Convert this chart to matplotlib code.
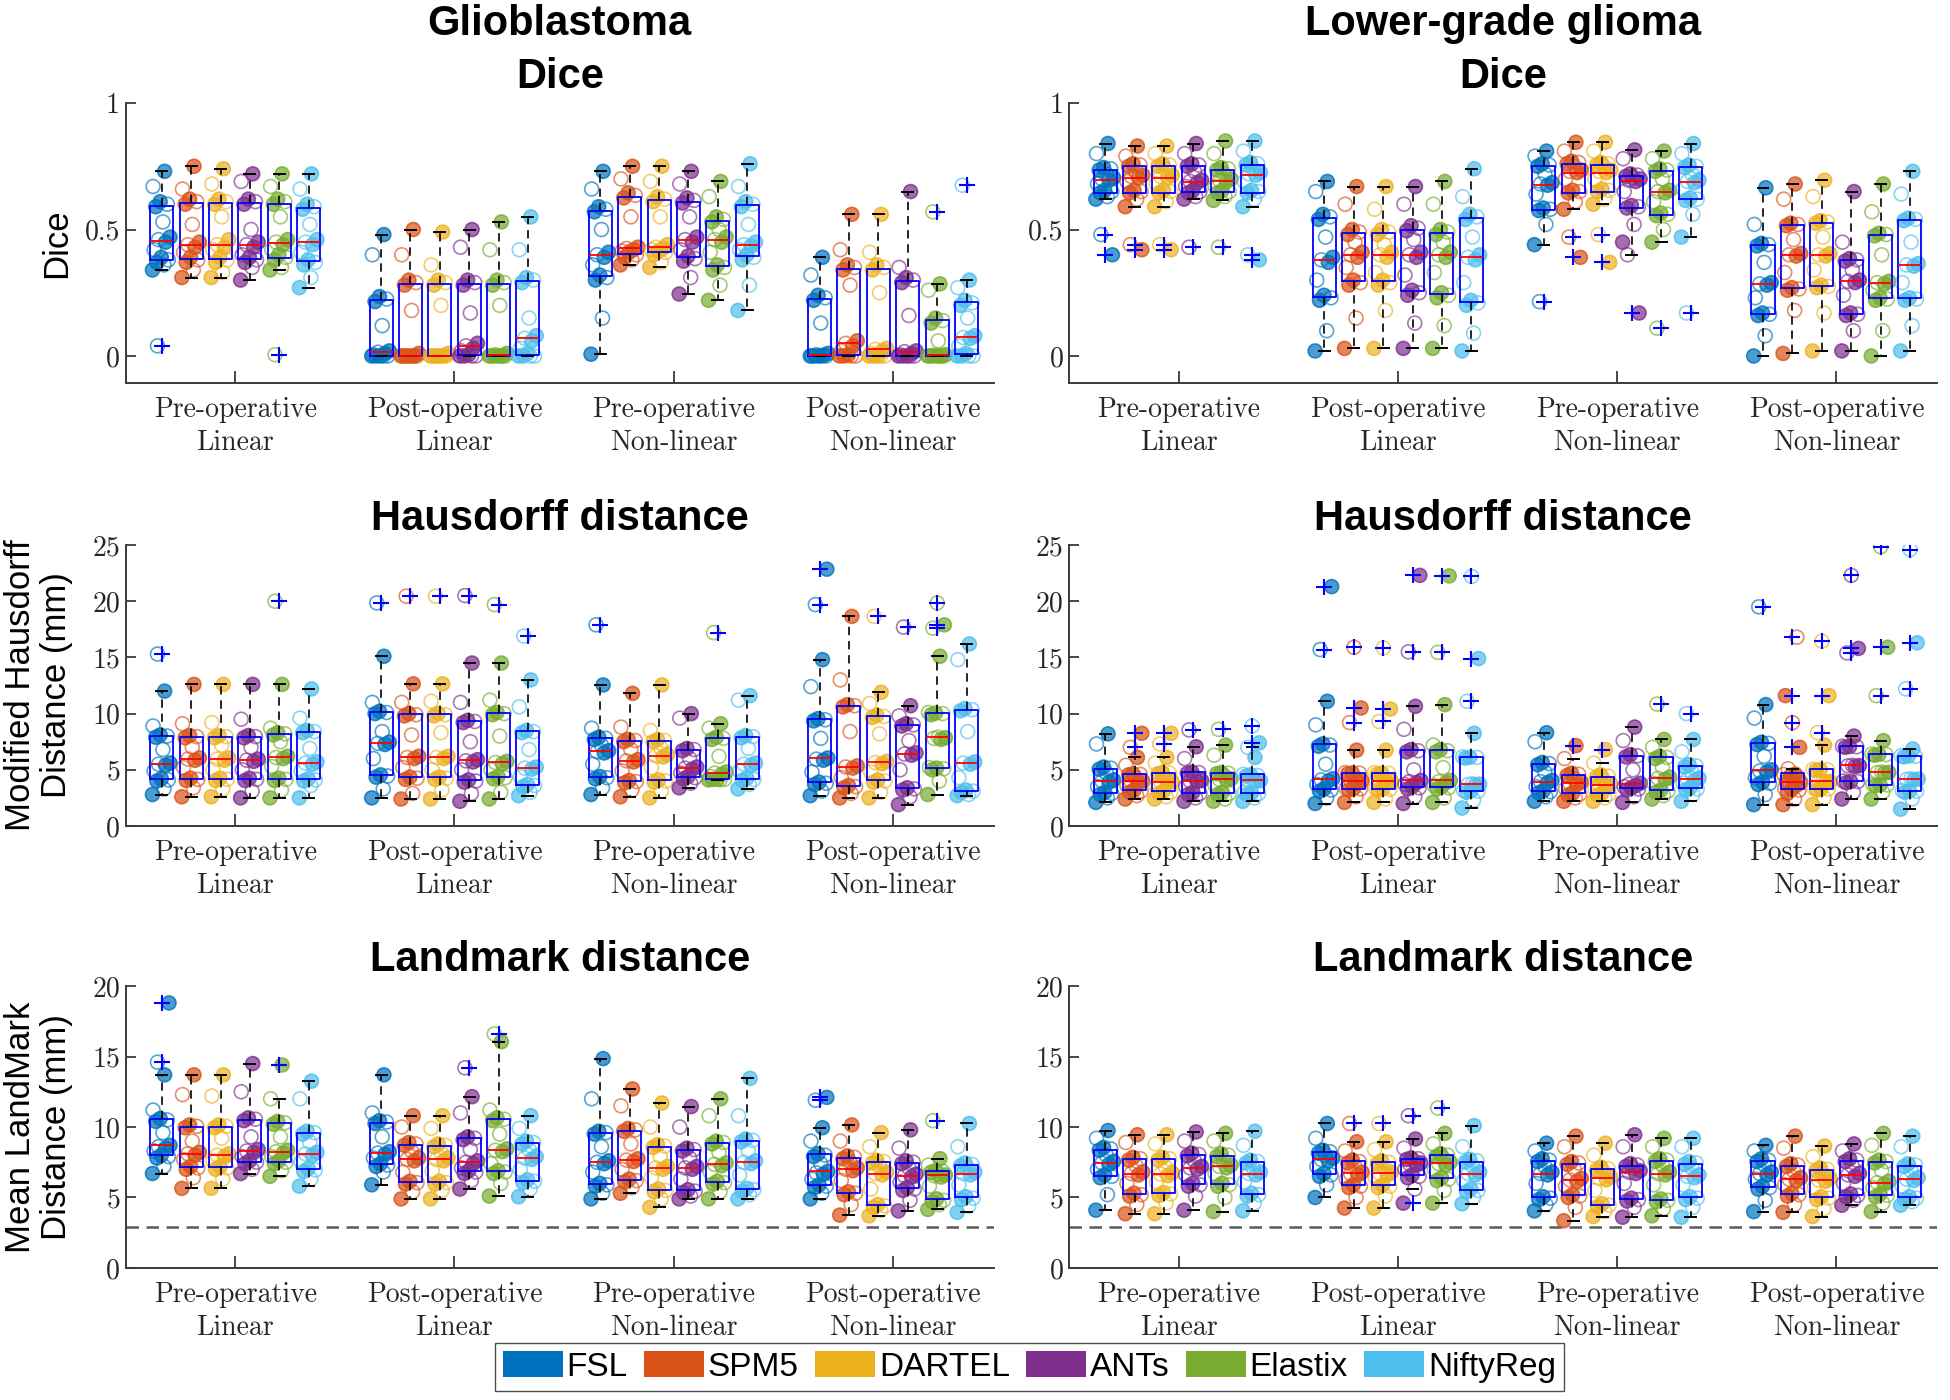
import numpy as np
import matplotlib
matplotlib.use('Agg')
import matplotlib.pyplot as plt
from matplotlib.patches import Patch
from matplotlib.colors import to_rgba

plt.rcParams['font.family'] = ['Liberation Sans', 'DejaVu Sans']

methods = ['FSL', 'SPM5', 'DARTEL', 'ANTs', 'Elastix', 'NiftyReg']
method_colors = ['#0072BD', '#D95319', '#EDB120', '#7E2F8E', '#77AC30', '#4DBEEE']
group_labels = ['Pre-operative\nLinear', 'Post-operative\nLinear',
                'Pre-operative\nNon-linear', 'Post-operative\nNon-linear']

# ---- Glioblastoma, Dice (one list per method: FSL, SPM5, DARTEL, ANTs, Elastix, NiftyReg)
gbm_dice_pre_lin = [
    [.34, .36, .37, .38, .39, .42, .45, .46, .47, .53, .59, .60, .61, .67, .73, .04],
    [.31, .34, .37, .38, .39, .41, .43, .44, .45, .52, .60, .61, .62, .66, .75],
    [.31, .33, .37, .38, .39, .42, .43, .44, .46, .55, .60, .61, .62, .68, .74],
    [.30, .35, .37, .38, .39, .40, .43, .44, .45, .50, .60, .61, .62, .69, .72],
    [.34, .35, .38, .39, .40, .42, .44, .45, .46, .55, .60, .61, .62, .67, .72, .005],
    [.27, .31, .36, .37, .38, .41, .44, .45, .46, .52, .58, .59, .60, .66, .72]]
gbm_dice_post_lin = [
    [0, 0, 0, 0, 0, .005, .01, .015, .02, .12, .215, .225, .235, .40, .48],
    [0, 0, 0, 0, 0, 0, 0, 0, .01, .18, .28, .29, .30, .40, .50],
    [0, 0, 0, 0, 0, 0, 0, 0, .01, .20, .28, .29, .30, .36, .49],
    [0, 0, 0, 0, .005, .02, .03, .04, .05, .17, .28, .29, .30, .43, .50],
    [0, 0, 0, 0, 0, 0, 0, .005, .01, .20, .28, .29, .30, .42, .53],
    [0, 0, 0, 0, .01, .03, .06, .07, .08, .15, .29, .30, .31, .42, .55]]
gbm_dice_pre_nl = [
    [.007, .15, .30, .31, .32, .36, .39, .40, .41, .50, .57, .58, .59, .66, .73],
    [.36, .38, .39, .40, .41, .415, .42, .425, .43, .55, .625, .635, .645, .70, .75],
    [.35, .37, .40, .41, .415, .42, .425, .43, .44, .55, .61, .62, .63, .69, .75],
    [.245, .31, .375, .385, .395, .42, .45, .46, .47, .55, .605, .615, .625, .68, .73],
    [.22, .28, .34, .35, .36, .41, .45, .46, .47, .50, .53, .54, .55, .63, .69],
    [.18, .28, .38, .39, .40, .42, .435, .44, .45, .52, .59, .60, .61, .67, .76]]
gbm_dice_post_nl = [
    [0, 0, 0, 0, 0, 0, .003, .005, .01, .13, .22, .23, .24, .32, .39],
    [0, 0, 0, 0, .005, .02, .04, .05, .06, .28, .34, .35, .36, .42, .56],
    [0, 0, 0, 0, 0, .01, .02, .026, .03, .25, .34, .35, .36, .41, .56],
    [0, 0, 0, 0, 0, .005, .01, .017, .02, .16, .29, .30, .31, .35, .65],
    [0, 0, 0, 0, 0, 0, 0, .003, .005, .06, .13, .14, .15, .26, .285, .57],
    [0, 0, 0, 0, .01, .04, .07, .073, .08, .15, .20, .21, .22, .27, .30, .675]]

# ---- Lower-grade glioma, Dice
lgg_dice_pre_lin = [
    [.62, .63, .645, .65, .655, .68, .695, .70, .705, .72, .735, .74, .745, .80, .84, .48, .40],
    [.59, .62, .645, .65, .655, .69, .705, .71, .715, .73, .75, .755, .76, .79, .83, .44, .42],
    [.59, .61, .645, .65, .655, .68, .705, .71, .715, .74, .75, .755, .76, .80, .83, .44, .42],
    [.62, .63, .645, .65, .655, .67, .685, .69, .695, .73, .75, .755, .76, .80, .84, .43],
    [.615, .63, .645, .65, .655, .67, .69, .695, .70, .72, .735, .74, .745, .80, .85, .43],
    [.59, .62, .645, .65, .655, .69, .715, .72, .725, .74, .755, .76, .765, .81, .85, .40, .38]]
lgg_dice_post_lin = [
    [.02, .10, .22, .23, .24, .30, .37, .38, .39, .47, .54, .55, .56, .65, .69],
    [.03, .15, .28, .29, .30, .35, .39, .40, .41, .45, .48, .49, .50, .60, .67],
    [.03, .18, .28, .29, .30, .33, .39, .40, .41, .44, .48, .49, .50, .58, .67],
    [.03, .13, .24, .25, .26, .32, .39, .40, .41, .46, .495, .505, .515, .60, .67],
    [.03, .12, .23, .24, .25, .33, .39, .40, .41, .45, .48, .49, .50, .60, .69],
    [.02, .09, .20, .21, .22, .29, .38, .39, .40, .47, .54, .55, .56, .63, .74]]
lgg_dice_pre_nl = [
    [.44, .52, .575, .58, .585, .64, .675, .68, .685, .72, .75, .755, .76, .79, .81, .215],
    [.58, .61, .645, .65, .655, .70, .725, .73, .735, .75, .76, .765, .77, .81, .845, .47, .39],
    [.60, .62, .65, .655, .66, .70, .725, .73, .735, .75, .755, .76, .765, .81, .845, .48, .37],
    [.45, .52, .585, .59, .595, .65, .69, .695, .70, .705, .71, .715, .72, .78, .815, .40, .17],
    [.45, .50, .555, .56, .565, .61, .645, .65, .655, .70, .73, .735, .74, .78, .81, .11],
    [.47, .56, .615, .62, .625, .66, .685, .69, .695, .72, .745, .75, .755, .80, .84, .17]]
lgg_dice_post_nl = [
    [0, .08, .16, .165, .17, .23, .28, .285, .29, .37, .435, .44, .445, .52, .665],
    [.01, .18, .26, .265, .27, .33, .395, .40, .405, .46, .515, .52, .525, .62, .68],
    [.02, .17, .27, .275, .28, .34, .395, .40, .405, .47, .525, .53, .535, .63, .695],
    [.02, .10, .16, .165, .17, .24, .29, .295, .30, .34, .375, .38, .385, .45, .65],
    [0, .10, .22, .225, .23, .26, .285, .29, .295, .40, .475, .48, .485, .57, .68],
    [.02, .12, .22, .225, .23, .29, .355, .36, .365, .45, .535, .54, .545, .64, .73]]

# ---- Glioblastoma, modified Hausdorff distance (mm)
gbm_hd_pre_lin = [
    [2.8, 3.3, 4.0, 4.1, 4.2, 4.9, 5.4, 5.5, 5.6, 6.8, 7.9, 8.0, 8.1, 8.9, 12.0, 15.3],
    [2.6, 3.4, 4.05, 4.15, 4.25, 5.2, 5.85, 5.95, 6.05, 7.0, 7.85, 7.95, 8.05, 9.1, 12.6],
    [2.6, 3.3, 4.05, 4.15, 4.25, 5.0, 5.85, 5.95, 6.05, 7.2, 7.85, 7.95, 8.05, 9.2, 12.6],
    [2.5, 3.1, 4.05, 4.15, 4.25, 5.0, 5.75, 5.85, 5.95, 7.0, 7.85, 7.95, 8.05, 9.5, 12.6],
    [2.5, 3.2, 4.05, 4.15, 4.25, 5.3, 6.0, 6.1, 6.2, 7.5, 8.1, 8.2, 8.3, 8.7, 12.6, 20.0],
    [2.5, 3.6, 4.0, 4.1, 4.2, 4.9, 5.5, 5.6, 5.7, 6.9, 8.3, 8.4, 8.5, 9.6, 12.2]]
gbm_hd_post_lin = [
    [2.5, 3.3, 4.35, 4.45, 4.55, 6.0, 7.25, 7.35, 7.45, 8.4, 10.0, 10.1, 10.2, 11.0, 15.1, 19.85],
    [2.4, 2.9, 4.15, 4.25, 4.35, 5.2, 6.0, 6.1, 6.2, 8.1, 9.8, 9.9, 10.0, 11.0, 12.65, 20.45],
    [2.4, 3.2, 4.15, 4.25, 4.35, 5.0, 6.0, 6.1, 6.2, 8.3, 9.8, 9.9, 10.0, 11.1, 12.65, 20.45],
    [2.2, 2.9, 3.9, 4.0, 4.1, 5.0, 5.7, 5.8, 5.9, 7.5, 9.2, 9.3, 9.4, 11.0, 14.5, 20.5],
    [2.4, 3.0, 4.2, 4.3, 4.4, 5.0, 5.55, 5.65, 5.75, 8.0, 9.9, 10.0, 10.1, 11.2, 14.5, 19.7],
    [2.7, 3.0, 3.5, 3.6, 3.7, 4.4, 5.05, 5.15, 5.25, 6.8, 8.3, 8.4, 8.5, 10.6, 13.0, 16.9]]
gbm_hd_pre_nl = [
    [2.8, 3.4, 4.2, 4.3, 4.4, 5.5, 6.5, 6.6, 6.7, 7.2, 7.7, 7.8, 7.9, 8.7, 12.55, 17.9],
    [2.6, 3.2, 3.85, 3.95, 4.05, 4.9, 5.7, 5.8, 5.9, 6.8, 7.5, 7.6, 7.7, 8.8, 11.8],
    [2.5, 3.1, 3.9, 4.0, 4.1, 5.2, 6.15, 6.25, 6.35, 7.0, 7.5, 7.6, 7.7, 8.5, 12.55],
    [3.4, 3.8, 4.2, 4.3, 4.4, 4.7, 5.05, 5.15, 5.25, 6.0, 6.7, 6.8, 6.9, 9.6, 10.0],
    [4.1, 4.12, 4.14, 4.15, 4.16, 4.4, 4.6, 4.7, 4.8, 6.2, 7.7, 7.8, 7.9, 8.7, 9.1, 17.2],
    [3.3, 3.7, 4.05, 4.15, 4.25, 4.9, 5.4, 5.5, 5.6, 6.9, 7.85, 7.95, 8.05, 11.2, 11.6]]
gbm_hd_post_nl = [
    [2.7, 3.1, 3.7, 3.8, 3.9, 4.8, 5.85, 5.95, 6.05, 7.8, 9.35, 9.45, 9.55, 12.4, 14.8, 19.7, 22.85],
    [2.5, 2.9, 3.4, 3.5, 3.6, 4.3, 5.15, 5.25, 5.35, 8.4, 10.6, 10.7, 10.8, 13.0, 18.65],
    [2.5, 3.0, 3.9, 4.0, 4.1, 4.8, 5.55, 5.65, 5.75, 8.2, 9.65, 9.75, 9.85, 10.9, 11.9, 18.65],
    [1.9, 2.6, 3.2, 3.3, 3.4, 5.0, 6.3, 6.4, 6.5, 7.6, 8.9, 9.0, 9.1, 9.8, 10.7, 17.7],
    [2.8, 4.0, 5.0, 5.1, 5.15, 5.2, 7.7, 7.8, 7.85, 7.9, 9.9, 10.0, 10.05, 10.1, 15.1, 17.6, 17.9, 19.85],
    [2.7, 2.8, 3.0, 3.1, 3.2, 4.3, 5.5, 5.6, 5.7, 8.4, 10.25, 10.35, 10.45, 14.8, 16.2]]

# ---- Lower-grade glioma, modified Hausdorff distance (mm)
lgg_hd_pre_lin = [
    [2.1, 2.5, 2.8, 2.9, 3.0, 3.5, 3.9, 4.0, 4.1, 4.7, 5.05, 5.15, 5.25, 7.3, 8.2],
    [2.4, 2.7, 3.0, 3.1, 3.2, 3.6, 3.9, 3.95, 4.0, 4.3, 4.55, 4.6, 4.65, 5.4, 6.1, 7.0, 8.25],
    [2.4, 2.6, 2.9, 3.0, 3.1, 3.5, 3.85, 3.9, 3.95, 4.3, 4.65, 4.7, 4.75, 5.6, 6.1, 7.3, 8.25],
    [2.2, 2.5, 2.8, 2.9, 3.0, 3.5, 3.95, 4.0, 4.05, 4.4, 4.7, 4.75, 4.8, 6.0, 7.05, 8.55],
    [2.2, 2.4, 2.8, 2.9, 3.0, 3.6, 4.1, 4.15, 4.2, 4.5, 4.65, 4.7, 4.75, 6.3, 7.2, 8.6],
    [2.2, 2.5, 2.8, 2.9, 2.95, 3.0, 3.95, 4.0, 4.05, 4.1, 4.45, 4.5, 4.55, 4.6, 6.1, 7.0, 7.4, 8.9]]
lgg_hd_post_lin = [
    [2.0, 2.5, 3.1, 3.2, 3.3, 3.7, 4.0, 4.1, 4.2, 5.5, 7.1, 7.2, 7.3, 9.0, 11.1, 15.7, 21.3],
    [2.1, 2.6, 3.2, 3.3, 3.32, 3.35, 3.95, 4.0, 4.02, 4.05, 4.65, 4.7, 4.72, 4.75, 6.75, 9.2, 10.5, 15.9],
    [2.1, 2.4, 3.2, 3.28, 3.3, 3.35, 3.9, 3.98, 4.0, 4.05, 4.62, 4.68, 4.7, 4.75, 6.75, 9.3, 10.4, 15.85],
    [2.0, 2.6, 3.3, 3.4, 3.5, 3.7, 3.85, 3.95, 4.05, 5.0, 6.6, 6.7, 6.8, 8.6, 10.65, 15.5, 22.3],
    [2.1, 2.5, 3.3, 3.4, 3.5, 3.6, 3.85, 3.95, 4.05, 5.2, 6.6, 6.7, 6.8, 7.2, 10.8, 15.45, 22.25],
    [1.6, 2.3, 3.0, 3.1, 3.12, 3.15, 3.65, 3.7, 3.72, 3.75, 6.05, 6.1, 6.12, 6.15, 8.25, 11.1, 14.9, 22.2]]
lgg_hd_pre_nl = [
    [2.2, 2.6, 2.95, 3.05, 3.15, 3.5, 3.85, 3.95, 4.05, 4.8, 5.45, 5.55, 5.65, 7.5, 8.3],
    [2.2, 2.5, 2.75, 2.85, 2.95, 3.3, 3.7, 3.8, 3.9, 4.2, 4.5, 4.6, 4.7, 6.0, 7.15],
    [2.2, 2.5, 2.75, 2.85, 2.95, 3.3, 3.55, 3.65, 3.75, 4.1, 4.35, 4.45, 4.55, 5.6, 6.8],
    [2.1, 2.6, 3.2, 3.3, 3.4, 3.5, 3.6, 3.7, 3.8, 5.0, 6.15, 6.25, 6.35, 7.6, 8.8],
    [2.4, 2.7, 3.0, 3.1, 3.2, 3.8, 4.15, 4.25, 4.35, 5.2, 6.0, 6.1, 6.2, 7.0, 7.7, 10.85],
    [2.2, 2.8, 3.2, 3.3, 3.4, 3.8, 4.05, 4.15, 4.25, 4.8, 5.25, 5.35, 5.45, 6.6, 7.7, 10.0]]
lgg_hd_post_nl = [
    [1.9, 2.8, 3.7, 3.8, 3.9, 4.3, 4.8, 4.9, 5.0, 6.2, 7.25, 7.35, 7.45, 9.6, 10.8, 19.5],
    [1.9, 2.4, 2.9, 3.2, 3.28, 3.32, 3.6, 3.85, 3.9, 3.93, 3.97, 4.3, 4.5, 4.58, 4.62, 5.1, 7.0, 9.2, 11.6, 16.8],
    [1.9, 2.5, 3.2, 3.3, 3.32, 3.35, 3.9, 3.95, 3.97, 4.0, 4.95, 5.0, 5.02, 5.05, 7.2, 8.3, 11.6, 16.45],
    [2.4, 3.0, 3.85, 3.95, 3.97, 4.0, 5.3, 5.35, 5.37, 5.4, 7.0, 7.05, 7.07, 7.1, 8.0, 15.4, 15.8, 22.3],
    [2.4, 3.0, 3.6, 3.65, 3.67, 3.7, 4.7, 4.75, 4.77, 4.8, 6.3, 6.35, 6.37, 6.4, 7.6, 11.6, 15.9, 24.85],
    [1.5, 2.4, 3.0, 3.1, 3.12, 3.15, 4.1, 4.15, 4.17, 4.2, 6.15, 6.2, 6.22, 6.25, 6.85, 12.2, 16.3, 24.6]]

# ---- Glioblastoma, mean landmark distance (mm)
gbm_lm_pre_lin = [
    [6.7, 7.2, 7.8, 7.9, 8.0, 8.3, 8.5, 8.6, 8.7, 9.6, 10.4, 10.5, 10.6, 11.2, 13.7, 14.6, 18.8],
    [5.65, 6.4, 7.0, 7.1, 7.2, 7.7, 8.0, 8.1, 8.2, 9.0, 9.95, 10.05, 10.15, 12.3, 13.7],
    [5.65, 6.3, 7.0, 7.1, 7.2, 7.6, 7.9, 8.0, 8.1, 9.2, 9.95, 10.05, 10.15, 12.2, 13.7],
    [6.7, 7.0, 7.4, 7.5, 7.6, 7.9, 8.2, 8.3, 8.4, 9.3, 10.45, 10.55, 10.65, 12.5, 14.5],
    [6.5, 6.9, 7.4, 7.5, 7.6, 7.9, 8.15, 8.25, 8.35, 9.3, 10.2, 10.3, 10.4, 12.0, 14.4],
    [5.8, 6.3, 6.85, 6.95, 7.05, 7.5, 8.0, 8.1, 8.2, 8.9, 9.5, 9.6, 9.7, 12.0, 13.25]]
gbm_lm_post_lin = [
    [5.9, 6.8, 7.2, 7.3, 7.4, 7.8, 8.05, 8.15, 8.25, 9.3, 10.25, 10.35, 10.45, 11.0, 13.7],
    [4.9, 5.4, 5.95, 6.05, 6.15, 6.8, 7.6, 7.7, 7.8, 8.3, 8.7, 8.8, 8.9, 10.0, 10.8],
    [4.9, 5.5, 5.95, 6.05, 6.15, 6.9, 7.6, 7.7, 7.8, 8.2, 8.6, 8.7, 8.8, 9.9, 10.8],
    [5.6, 6.2, 6.7, 6.8, 6.9, 7.1, 7.4, 7.5, 7.6, 8.4, 9.1, 9.2, 9.3, 11.0, 12.15, 14.2],
    [5.1, 6.0, 6.7, 6.8, 6.9, 7.4, 8.25, 8.35, 8.45, 9.5, 10.45, 10.55, 10.65, 11.2, 16.05, 16.6],
    [5.05, 5.6, 6.05, 6.15, 6.25, 7.0, 7.7, 7.8, 7.9, 8.4, 8.8, 8.9, 9.0, 9.9, 10.8]]
gbm_lm_pre_nl = [
    [4.9, 5.3, 5.8, 5.9, 6.0, 6.8, 7.4, 7.5, 7.6, 8.6, 9.5, 9.6, 9.7, 12.0, 14.85],
    [5.3, 5.7, 6.1, 6.2, 6.3, 7.0, 7.55, 7.65, 7.75, 8.8, 9.7, 9.8, 9.9, 11.5, 12.7],
    [4.3, 4.9, 5.4, 5.5, 5.6, 6.4, 7.0, 7.1, 7.2, 7.9, 8.55, 8.65, 8.75, 10.0, 11.7],
    [4.9, 5.1, 5.35, 5.45, 5.55, 6.3, 7.0, 7.1, 7.2, 7.8, 8.3, 8.4, 8.5, 10.0, 11.45],
    [4.9, 5.4, 5.95, 6.05, 6.15, 6.8, 7.25, 7.35, 7.45, 8.2, 8.8, 8.9, 9.0, 10.8, 12.0],
    [4.9, 5.2, 5.45, 5.55, 5.65, 6.6, 7.4, 7.5, 7.6, 8.3, 8.95, 9.05, 9.15, 10.8, 13.45]]
gbm_lm_post_nl = [
    [4.9, 5.3, 5.7, 5.8, 5.9, 6.3, 6.65, 6.75, 6.85, 7.4, 7.9, 8.0, 8.1, 9.0, 9.95, 11.9, 12.1],
    [3.75, 4.5, 5.2, 5.3, 5.4, 6.2, 6.9, 7.0, 7.1, 7.5, 7.75, 7.85, 7.95, 9.0, 10.15],
    [3.7, 4.1, 4.3, 4.4, 4.5, 5.6, 6.6, 6.7, 6.8, 7.2, 7.45, 7.55, 7.65, 8.6, 9.6],
    [4.05, 4.8, 5.5, 5.6, 5.7, 6.1, 6.45, 6.55, 6.65, 7.1, 7.4, 7.5, 7.6, 8.5, 9.8],
    [4.15, 4.5, 4.7, 4.8, 4.9, 5.8, 6.45, 6.55, 6.6, 6.7, 6.8, 6.85, 6.9, 7.3, 7.75, 10.45],
    [3.95, 4.4, 4.85, 4.95, 5.05, 5.9, 6.6, 6.7, 6.8, 7.1, 7.25, 7.35, 7.45, 8.6, 10.25]]

# ---- Lower-grade glioma, mean landmark distance (mm)
lgg_lm_pre_lin = [
    [4.1, 5.2, 6.4, 6.5, 6.6, 7.0, 7.35, 7.45, 7.55, 8.0, 8.35, 8.45, 8.55, 9.2, 9.75],
    [3.85, 4.5, 5.1, 5.2, 5.3, 6.0, 6.6, 6.7, 6.8, 7.3, 7.65, 7.75, 7.85, 8.9, 9.45],
    [3.85, 4.6, 5.15, 5.25, 5.35, 6.1, 6.55, 6.65, 6.75, 7.2, 7.65, 7.75, 7.85, 8.8, 9.45],
    [4.1, 5.1, 5.8, 5.9, 6.0, 6.6, 7.0, 7.1, 7.2, 7.6, 7.95, 8.05, 8.15, 9.0, 9.65],
    [4.0, 5.0, 5.8, 5.9, 6.0, 6.7, 7.1, 7.2, 7.3, 7.6, 7.9, 8.0, 8.1, 9.0, 9.55],
    [4.05, 4.6, 5.1, 5.2, 5.3, 6.1, 6.6, 6.7, 6.8, 7.1, 7.45, 7.55, 7.65, 8.7, 9.7]]
lgg_lm_post_lin = [
    [5.0, 5.9, 6.5, 6.6, 6.7, 7.2, 7.6, 7.7, 7.8, 8.0, 8.15, 8.25, 8.35, 9.2, 10.25],
    [4.25, 5.0, 5.7, 5.8, 5.9, 6.3, 6.6, 6.7, 6.8, 7.2, 7.45, 7.55, 7.65, 8.3, 8.95, 10.25],
    [4.25, 5.1, 5.7, 5.8, 5.9, 6.4, 6.6, 6.7, 6.8, 7.1, 7.4, 7.5, 7.6, 8.4, 8.95, 10.25],
    [4.6, 5.6, 6.4, 6.5, 6.6, 7.0, 7.3, 7.4, 7.45, 7.6, 7.7, 7.75, 7.8, 8.5, 9.15, 10.8],
    [4.6, 5.5, 6.2, 6.3, 6.4, 7.0, 7.3, 7.4, 7.5, 7.8, 7.9, 8.0, 8.1, 8.8, 9.55, 11.35],
    [4.55, 5.0, 5.4, 5.5, 5.6, 6.2, 6.6, 6.7, 6.8, 7.2, 7.5, 7.6, 7.7, 8.6, 10.1]]
lgg_lm_pre_nl = [
    [4.05, 4.5, 4.85, 4.95, 5.05, 6.0, 6.6, 6.7, 6.8, 7.2, 7.55, 7.65, 7.75, 8.3, 8.85],
    [3.35, 4.3, 5.0, 5.1, 5.2, 5.8, 6.15, 6.25, 6.35, 7.0, 7.35, 7.45, 7.55, 8.6, 9.35],
    [3.65, 4.0, 4.35, 4.45, 4.55, 5.5, 6.25, 6.35, 6.45, 6.8, 6.95, 7.05, 7.15, 8.0, 8.85],
    [3.6, 4.3, 4.75, 4.85, 4.95, 6.0, 6.7, 6.8, 6.9, 7.1, 7.2, 7.3, 7.4, 8.6, 9.45],
    [3.7, 4.2, 4.7, 4.8, 4.9, 5.9, 6.6, 6.7, 6.8, 7.3, 7.55, 7.65, 7.75, 8.6, 9.2],
    [3.6, 4.3, 4.85, 4.95, 5.05, 5.9, 6.4, 6.5, 6.6, 7.1, 7.35, 7.45, 7.55, 8.6, 9.2]]
lgg_lm_post_nl = [
    [4.0, 4.8, 5.6, 5.7, 5.8, 6.3, 6.6, 6.7, 6.8, 7.3, 7.55, 7.65, 7.75, 8.3, 8.7],
    [3.95, 4.5, 5.1, 5.2, 5.3, 5.9, 6.2, 6.3, 6.4, 6.9, 7.2, 7.3, 7.4, 8.5, 9.35],
    [3.65, 4.2, 4.85, 4.95, 5.05, 5.7, 6.15, 6.25, 6.35, 6.7, 6.9, 7.0, 7.1, 7.9, 8.65],
    [4.45, 4.8, 5.05, 5.15, 5.25, 6.0, 6.5, 6.6, 6.7, 7.2, 7.55, 7.65, 7.75, 8.3, 8.8],
    [4.0, 4.6, 5.05, 5.15, 5.25, 5.7, 5.95, 6.05, 6.15, 6.9, 7.45, 7.55, 7.65, 8.7, 9.55],
    [4.45, 4.7, 4.85, 4.95, 5.05, 5.8, 6.2, 6.3, 6.4, 6.9, 7.2, 7.3, 7.4, 8.6, 9.35]]

landmark_ref = 2.9   # dashed reference level in the landmark panels

# panel: row, col, title, ylabel, groups, ylim, yticks, yticklabels
panels = [
    (0, 0, 'Glioblastoma\nDice', 'Dice',
     [gbm_dice_pre_lin, gbm_dice_post_lin, gbm_dice_pre_nl, gbm_dice_post_nl],
     (-0.107, 1), [0, 0.5, 1], ['0', '0.5', '1']),
    (0, 1, 'Lower-grade glioma\nDice', None,
     [lgg_dice_pre_lin, lgg_dice_post_lin, lgg_dice_pre_nl, lgg_dice_post_nl],
     (-0.107, 1), [0, 0.5, 1], ['0', '0.5', '1']),
    (1, 0, 'Hausdorff distance', 'Modified Hausdorff\nDistance (mm)',
     [gbm_hd_pre_lin, gbm_hd_post_lin, gbm_hd_pre_nl, gbm_hd_post_nl],
     (0, 25), [0, 5, 10, 15, 20, 25], ['0', '5', '10', '15', '20', '25']),
    (1, 1, 'Hausdorff distance', None,
     [lgg_hd_pre_lin, lgg_hd_post_lin, lgg_hd_pre_nl, lgg_hd_post_nl],
     (0, 25), [0, 5, 10, 15, 20, 25], ['0', '5', '10', '15', '20', '25']),
    (2, 0, 'Landmark distance', 'Mean LandMark\nDistance (mm)',
     [gbm_lm_pre_lin, gbm_lm_post_lin, gbm_lm_pre_nl, gbm_lm_post_nl],
     (0, 20), [0, 5, 10, 15, 20], ['0', '5', '10', '15', '20']),
    (2, 1, 'Landmark distance', None,
     [lgg_lm_pre_lin, lgg_lm_post_lin, lgg_lm_pre_nl, lgg_lm_post_nl],
     (0, 20), [0, 5, 10, 15, 20], ['0', '5', '10', '15', '20']),
]

col_left = [0.0644, 0.5482]
row_bottom = [0.7264, 0.4100, 0.0943]
row_height = [0.2000, 0.2007, 0.2014]
ax_width = 0.4453
axis_gray = '#3a3a3a'


def draw_panel(ax, groups):
    data, pos = [], []
    for g, group in enumerate(groups):
        for m, vals in enumerate(group):
            x0 = g + 1 + (m - 2.5) * 0.134
            col = method_colors[m]
            xs, fcs, ecs = [], [], []
            for i, v in enumerate(vals):
                xs.append(x0 + ((i * 0.618034) % 1.0 - 0.5) * 0.085)
                if i % 2 == 0:
                    fcs.append(to_rgba(col, 0.7))
                    ecs.append(to_rgba(col, 0.8))
                else:
                    fcs.append((1, 1, 1, 0))
                    ecs.append(to_rgba(col, 0.65))
            ax.scatter(xs, vals, s=100, facecolors=fcs, edgecolors=ecs,
                       linewidths=1.2, zorder=2)
            data.append(vals)
            pos.append(x0)
    ax.boxplot(data, positions=pos, widths=0.105, whis=1.5, manage_ticks=False,
               capwidths=0.05, zorder=3,
               boxprops=dict(color='blue', linewidth=1.3),
               medianprops=dict(color='red', linewidth=1.3),
               whiskerprops=dict(color='black', linewidth=1.2, linestyle=(0, (5, 3.5))),
               capprops=dict(color='black', linewidth=1.4),
               flierprops=dict(marker='+', markeredgecolor='blue', markersize=11,
                               markeredgewidth=1.5))


fig = plt.figure(figsize=(19.5, 14), dpi=100)

for row, col, title, ylabel, groups, ylim, yt, ytl in panels:
    ax = fig.add_axes([col_left[col], row_bottom[row], ax_width, row_height[row]])
    draw_panel(ax, groups)
    if row == 2:
        ax.axhline(landmark_ref, color='#5a5a5a', linewidth=1.8,
                   linestyle=(0, (5, 3)), zorder=1)
    ax.set_xlim(0.5, 4.46)
    ax.set_ylim(*ylim)
    ax.set_xticks([1, 2, 3, 4])
    ax.set_xticklabels(group_labels, fontfamily='cmr10', fontsize=20,
                       color='#262626', linespacing=1.3)
    ax.set_yticks(yt)
    ax.set_yticklabels(ytl, fontfamily='cmr10', fontsize=20, color='#262626')
    ax.tick_params(axis='x', direction='in', length=9, width=1.3, color=axis_gray, pad=10)
    ax.tick_params(axis='y', direction='in', length=7, width=1.3, color=axis_gray, pad=4)
    for side in ['top', 'right']:
        ax.spines[side].set_visible(False)
    for side in ['left', 'bottom']:
        ax.spines[side].set_color(axis_gray)
        ax.spines[side].set_linewidth(1.4)
    ax.set_title(title, fontsize=30, fontweight='bold', pad=11, linespacing=1.4)
    if ylabel is not None:
        ax.set_ylabel(ylabel, fontsize=25, linespacing=1.15)
        ax.yaxis.set_label_coords(-0.06, 0.5)

handles = [Patch(facecolor=c, edgecolor='none', label=n)
           for n, c in zip(methods, method_colors)]
leg = fig.legend(handles=handles, loc='center', bbox_to_anchor=(0.528, 0.0235),
                 ncol=6, frameon=True, fancybox=False, edgecolor='#222222',
                 fontsize=24, handlelength=1.8, handleheight=0.8,
                 handletextpad=0.1, columnspacing=0.5, borderpad=0.25,
                 borderaxespad=0)
leg.get_frame().set_linewidth(1.0)

fig.savefig('out.png', dpi=100)
